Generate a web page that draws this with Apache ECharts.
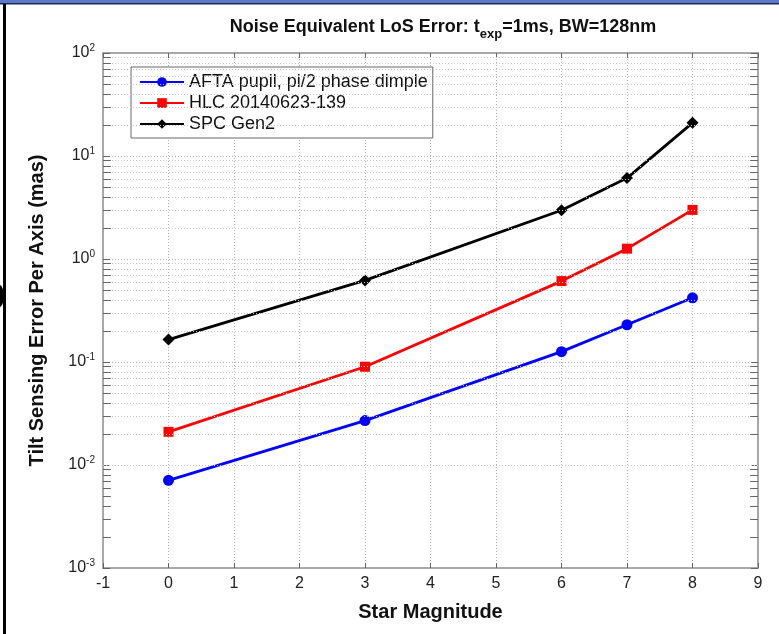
<!DOCTYPE html>
<html>
<head>
<meta charset="utf-8">
<script src="https://cdn.jsdelivr.net/npm/echarts@6/dist/echarts.min.js"></script>
<style>html,body{margin:0;padding:0;background:#fff;}#c{width:779px;height:634px;}</style>
</head>
<body>
<div id="c"></div>
<script>
var xValues = [0, 3, 6, 7, 8];
var aftaValues = [0.0071, 0.027, 0.126, 0.23, 0.42];
var hlcValues = [0.021, 0.090, 0.61, 1.26, 3.0];
var spcValues = [0.165, 0.62, 2.97, 6.1, 21];
var seriesNames = ['AFTA pupil, pi/2 phase dimple', 'HLC 20140623-139', 'SPC Gen2'];
var xTicks = [-1, 0, 1, 2, 3, 4, 5, 6, 7, 8, 9];
var yDecades = [-3, -2, -1, 0, 1, 2];

function pairs(vals) { return xValues.map(function (x, i) { return [x, vals[i]]; }); }

var minorGrid = [], minorTicks = [];
for (var d = -3; d < 2; d++) {
  for (var m = 2; m <= 9; m++) {
    var v = m * Math.pow(10, d);
    minorGrid.push({ yAxis: v });
    minorTicks.push([{ coord: [-1, v] }, { coord: [-0.88, v] }]);
    minorTicks.push([{ coord: [8.88, v] }, { coord: [9, v] }]);
  }
}

var chart = echarts.init(document.getElementById('c'));
var F = 'Liberation Sans, Arial, sans-serif';
var axisGray = '#a8a8a8';
var gridLine = { show: true, lineStyle: { color: '#b0b0b0', type: [1, 2], width: 1 } };
var yLabelFmt = function (v) {
  var e = Math.round(Math.log10(v));
  return '{b|10}{s|' + e + '}';
};
var yRich = {
  b: { fontSize: 16, fontFamily: F, color: '#222' },
  s: { fontSize: 10, fontFamily: F, color: '#222', padding: [0, 0, 10, 0] }
};

chart.setOption({
  animation: false,
  backgroundColor: '#fff',
  title: {
    text: '{a|Noise Equivalent LoS Error: t}{b|exp}{a|=1ms, BW=128nm}',
    left: 438, top: 9, textAlign: 'center',
    textStyle: {
      rich: {
        a: { fontSize: 18, fontWeight: 'bold', fontFamily: F, color: '#111' },
        b: { fontSize: 13, fontWeight: 'bold', fontFamily: F, color: '#111', padding: [14, 0, 0, 0] }
      }
    }
  },
  legend: {
    data: seriesNames,
    orient: 'vertical',
    left: 131, top: 67,
    itemWidth: 44, itemHeight: 12, itemGap: 3,
    padding: [6, 5, 5, 8],
    backgroundColor: '#fff',
    borderColor: '#666', borderWidth: 1,
    textStyle: { fontSize: 18, fontFamily: F, color: '#111' }
  },
  grid: { left: 103, right: 21, top: 53, bottom: 66 },
  xAxis: [{
    type: 'value', min: -1, max: 9, interval: 1,
    name: 'Star Magnitude', nameLocation: 'middle', nameGap: 34,
    nameTextStyle: { fontSize: 20, fontWeight: 'bold', fontFamily: F, color: '#111' },
    axisLine: { show: true, onZero: false, lineStyle: { color: axisGray, width: 2 } },
    axisTick: { show: true, inside: true, length: 5, lineStyle: { color: '#666' } },
    axisLabel: { fontSize: 16, fontFamily: F, color: '#222', margin: 8 },
    splitLine: gridLine
  }, {
    type: 'value', min: -1, max: 9, interval: 1, position: 'top',
    axisLine: { show: true, onZero: false, lineStyle: { color: axisGray, width: 2 } },
    axisTick: { show: true, inside: true, length: 5, lineStyle: { color: '#666' } },
    axisLabel: { show: false }, splitLine: { show: false }
  }],
  yAxis: [{
    type: 'log', logBase: 10, min: 0.001, max: 100,
    name: 'Tilt Sensing Error Per Axis (mas)', nameLocation: 'middle', nameGap: 56,
    nameTextStyle: { fontSize: 20, fontWeight: 'bold', fontFamily: F, color: '#111' },
    axisLine: { show: true, onZero: false, lineStyle: { color: axisGray, width: 2 } },
    axisTick: { show: true, inside: true, length: 7, lineStyle: { color: '#666' } },
    axisLabel: { formatter: yLabelFmt, rich: yRich, margin: 8 },
    splitLine: gridLine
  }, {
    type: 'log', logBase: 10, min: 0.001, max: 100, position: 'right',
    axisLine: { show: true, onZero: false, lineStyle: { color: axisGray, width: 2 } },
    axisTick: { show: true, inside: true, length: 7, lineStyle: { color: '#666' } },
    axisLabel: { show: false }, splitLine: { show: false }
  }],
  series: [{
    type: 'line', name: '_minor', data: [], silent: true,
    markLine: {
      silent: true, symbol: ['none', 'none'], label: { show: false },
      lineStyle: { color: '#c4c4c4', type: [1, 2], width: 1 },
      data: minorGrid
    }
  }, {
    type: 'line', name: '_minorTicks', data: [], silent: true,
    markLine: {
      silent: true, symbol: ['none', 'none'], label: { show: false },
      lineStyle: { color: '#666', type: 'solid', width: 1 },
      data: minorTicks
    }
  }, {
    type: 'line', name: seriesNames[0], data: pairs(aftaValues),
    symbol: 'circle', symbolSize: 11,
    itemStyle: { color: '#0000ff' }, lineStyle: { color: '#0000ff', width: 2.8 }
  }, {
    type: 'line', name: seriesNames[1], data: pairs(hlcValues),
    symbol: 'rect', symbolSize: 10,
    itemStyle: { color: '#ff0000' }, lineStyle: { color: '#ff0000', width: 2.8 }
  }, {
    type: 'line', name: seriesNames[2], data: pairs(spcValues),
    symbol: 'diamond', symbolSize: 12,
    itemStyle: { color: '#000' }, lineStyle: { color: '#000', width: 2.8 }
  }],
  graphic: [
    { type: 'rect', shape: { x: 0, y: 0, width: 779, height: 3 }, style: { fill: '#5a78c4' }, silent: true },
    { type: 'rect', shape: { x: 0, y: 3, width: 779, height: 1.5 }, style: { fill: '#1c2b55' }, silent: true },
    { type: 'rect', shape: { x: 3, y: 4, width: 3, height: 630 }, style: { fill: '#000' }, silent: true },
    { type: 'ellipse', shape: { cx: -2, cy: 296, rx: 6, ry: 12 }, style: { fill: '#000' }, silent: true }
  ]
});
</script>
</body>
</html>
